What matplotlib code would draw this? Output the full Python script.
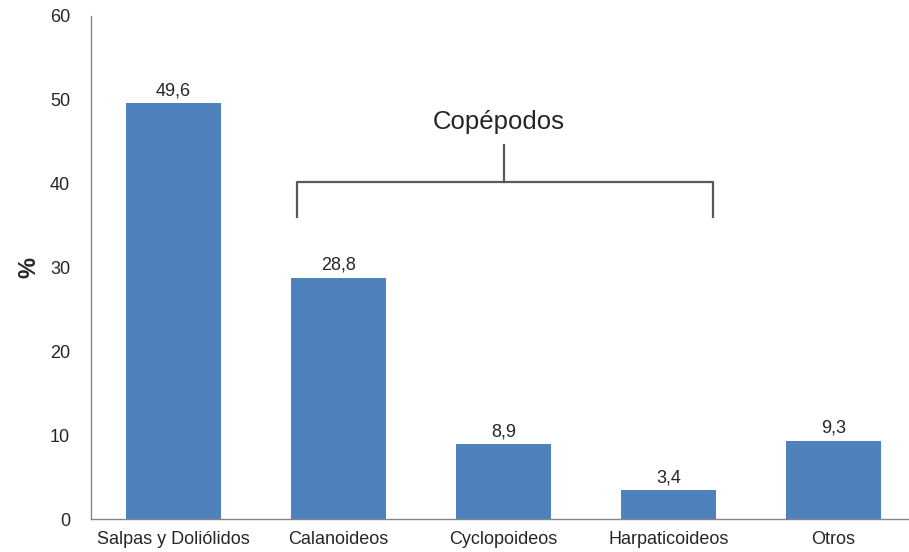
import matplotlib
matplotlib.use("Agg")
import matplotlib.pyplot as plt

categories = ["Salpas y Doliólidos", "Calanoideos", "Cyclopoideos", "Harpaticoideos", "Otros"]
values = [49.6, 28.8, 8.9, 3.4, 9.3]
value_labels = ["49,6", "28,8", "8,9", "3,4", "9,3"]
yticks = [0, 10, 20, 30, 40, 50, 60]

plt.rcParams['font.family'] = ['Liberation Sans', 'DejaVu Sans']

fig = plt.figure(figsize=(9.09, 5.52), dpi=100)
ax = fig.add_axes([91/909, 33/552, 825/909, 503/552])

x = list(range(len(categories)))
ax.bar(x, values, width=0.57, color="#4F81BD", zorder=2)
ax.set_xlim(-0.5, 4.5)
ax.set_ylim(0, 60)
ax.set_yticks(yticks)
ax.set_xticks(x)
ax.set_xticklabels(categories)
ax.tick_params(axis='both', length=0, labelsize=13, colors="#262626")
ax.tick_params(axis='y', pad=15)
ax.tick_params(axis='x', pad=9)

for s in ['top', 'right']:
    ax.spines[s].set_visible(False)
for s in ['left', 'bottom']:
    ax.spines[s].set_color("#868686")
    ax.spines[s].set_linewidth(1.0)

for xi, v, lab in zip(x, values, value_labels):
    ax.annotate(lab, (xi, v), xytext=(0, 3), textcoords='offset points',
                ha='center', va='bottom', fontsize=13, color="#262626")

ax.set_ylabel("%", fontsize=17, fontweight='bold', labelpad=7, color="#262626")

# Bracket for Copépodos
bx0, bx1, bxm = 0.75, 3.27, 2.0
by_top, by_bot, by_stem = 40.2, 36.0, 44.6
lc = "#595959"
ax.plot([bx0, bx0, bx1, bx1], [by_bot, by_top, by_top, by_bot], color=lc, lw=1.6, clip_on=False)
ax.plot([bxm, bxm], [by_top, by_stem], color=lc, lw=1.6)
ax.text(1.97, 47.4, "Copépodos", ha='center', va='center', fontsize=18.5, color="#262626")

fig.savefig("out.png", dpi=100)
